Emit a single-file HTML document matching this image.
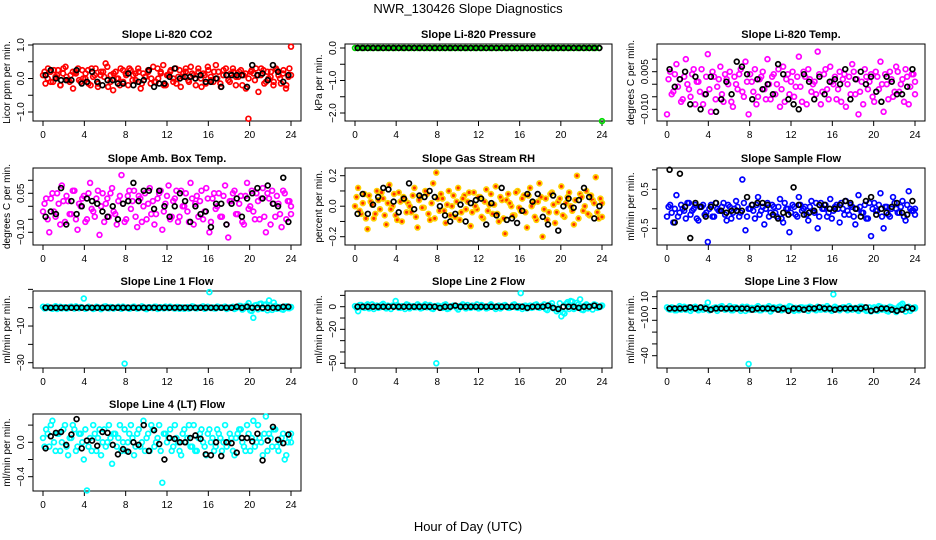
<!DOCTYPE html>
<html><head><meta charset="utf-8"><style>
html,body{margin:0;padding:0;background:#fff}
svg{display:block;font-family:"Liberation Sans",sans-serif}
</style></head><body>
<svg id="c" width="936" height="540" viewBox="0 0 936 540" xmlns="http://www.w3.org/2000/svg">
<text x="468" y="13" text-anchor="middle" font-size="13">NWR_130426  Slope Diagnostics</text>
<text x="468" y="531" text-anchor="middle" font-size="13">Hour of Day (UTC)</text>
</svg>
<script>
const co2Color=[0.1,-0.15,0.3,0.2,-0.1,0.05,0.25,-0.2,0.15,0.35,-0.05,0.1,-0.3,0.2,0.3,-0.1,0.0,0.15,0.25,-0.2,0.05,0.3,-0.15,0.1,0.2,0.45,-0.25,0.1,-0.35,0.2,0.0,0.3,-0.1,0.15,-0.2,0.25,0.1,-0.05,0.3,-0.3,0.15,0.05,0.2,-0.15,0.35,-0.1,0.0,0.2,0.4,-0.2,0.1,0.25,-0.1,0.3,0.05,-0.25,0.15,0.2,-0.05,0.35,0.1,-0.2,0.3,0.0,0.15,-0.15,0.25,0.05,-0.1,0.4,0.2,-0.25,0.1,0.3,-0.05,0.15,0.2,-0.2,0.05,0.25,0.1,-0.3,-1.2,0.2,0.15,0.3,-0.4,0.1,0.25,-0.1,0.0,0.2,-0.2,0.3,0.1,-0.15,0.25,-0.3,0.05,0.95];
const co2Color2=[0.2,0.0,-0.1,0.25,0.1,-0.2,0.3,0.05,-0.1,0.2,0.15,-0.05,0.25,0.0,-0.15,0.3,0.1,-0.25,0.2,0.05,0.35,-0.1,0.15,0.0,-0.2,0.25,0.1,0.3,-0.05,0.15,0.2,-0.15,0.05,0.25,0.0,-0.1,0.3,0.15,-0.2,0.1,0.2,0.0,-0.15,0.25,0.05,0.3,-0.1,0.15,0.0,0.2,-0.25,0.1,0.35,-0.05,0.2,0.0,-0.15,0.25,0.1,-0.1,0.3,0.05,0.2,-0.2,0.15,0.0,0.25,-0.05,0.1,0.3,-0.15,0.2,0.05,-0.1,0.25,0.0,0.15,-0.2,0.3,0.1];
const co2Black=[0.1,0.25,0.0,-0.05,-0.05,-0.05,0.25,-0.15,-0.1,0.2,-0.1,-0.2,-0.05,-0.05,-0.15,-0.15,0.15,-0.2,-0.1,-0.05,0.25,-0.25,-0.15,-0.15,0.05,0.3,0.0,0.05,0.05,0.0,0.1,-0.1,-0.1,0.0,-0.25,0.1,0.1,0.1,0.1,-0.25,0.4,0.1,0.15,-0.05,0.4,0.2,-0.1,0.1];
const presColor=[0,0,0,0,0,0,0,0,0,0,0,0,0,0,0,0,0,0,0,0,0,0,0,0,0,0,0,0,0,0,0,0,0,0,0,0,0,0,0,0,0,0,0,0,0,0,0,0,0,0,0,0,0,0,0,0,0,0,0,0,0,0,0,0,0,0,0,0,0,0,0,0,0,0,0,0,0,0,0,-2.25];
const presColor2=[];
const presBlack=[0,0,0,0,0,0,0,0,0,0,0,0,0,0,0,0,0,0,0,0,0,0,0,0,0,0,0,0,0,0,0,0,0,0,0,0,0,0,0,0,0,0,0,0,0,0,0,0];
const tempColor=[-0.012,0.005,-0.003,0.008,0.002,-0.006,0.010,-0.002,0.004,-0.008,0.001,0.006,-0.004,0.012,-0.011,0.003,-0.001,0.007,-0.007,0.002,0.005,-0.009,0.000,0.004,-0.003,0.009,-0.012,0.001,0.006,-0.005,0.003,-0.002,0.010,-0.006,0.004,0.000,-0.009,0.007,0.002,-0.004,0.005,-0.001,0.011,-0.007,0.003,0.006,-0.003,0.001,0.013,-0.008,0.004,-0.002,0.007,0.000,-0.006,0.005,0.002,-0.009,0.003,0.008,-0.004,-0.012,0.001,0.006,-0.002,0.004,-0.007,0.003,0.009,-0.011,0.000,0.005,-0.005,0.007,-0.003,0.002,0.006,-0.008,0.004,0.001];
const tempColor2=[0.002,-0.004,0.004,-0.001,-0.007,0.003,0.000,-0.005,0.006,0.001,-0.003,-0.008,0.003,-0.002,0.005,-0.006,0.002,-0.004,0.004,0.000,-0.007,0.003,-0.002,0.006,-0.005,0.001,0.004,-0.003,-0.008,0.002,0.005,-0.006,0.000,0.003,-0.004,0.006,-0.002,-0.007,0.004,0.001,-0.005,0.003,-0.001,0.005,-0.008,0.002,0.000,-0.004,0.004,-0.003,0.006,-0.006,0.001,0.003,-0.002,-0.007,0.004,0.000,-0.004,0.005,0.002,-0.003,-0.008,0.003,0.001,-0.005,0.005,-0.002,0.000,0.004,-0.006,0.002,-0.003,0.005,0.000,-0.007,0.003,-0.001,0.004,-0.004];
const tempBlack=[0.006,-0.001,0.002,0.005,-0.008,0.003,-0.010,-0.004,0.003,-0.011,-0.006,0.001,-0.004,0.009,0.007,0.004,-0.006,0.002,-0.002,0.000,-0.004,0.008,0.004,-0.006,-0.008,-0.010,0.004,0.001,-0.006,0.003,-0.004,0.001,0.002,0.000,0.006,-0.006,0.002,0.005,0.000,0.003,-0.003,-0.007,0.003,0.001,-0.004,-0.004,-0.001,0.006];
const ambColor=[-0.02,0.03,-0.1,0.05,-0.04,0.01,0.08,-0.06,0.02,-0.03,0.06,-0.09,0.0,0.04,-0.05,0.09,-0.02,0.03,-0.11,0.05,0.01,-0.04,0.07,-0.03,0.02,0.12,-0.06,0.04,-0.01,0.06,-0.08,0.03,0.0,-0.05,0.07,0.02,-0.03,0.05,-0.09,0.01,0.08,-0.04,0.03,-0.06,0.06,0.0,-0.02,0.09,-0.07,0.04,0.02,-0.05,0.07,-0.1,0.03,-0.01,0.05,-0.04,0.08,-0.12,0.02,0.06,-0.03,0.04,-0.07,0.09,0.0,-0.02,0.05,-0.05,0.07,-0.1,0.03,0.06,-0.04,0.01,-0.08,0.05,0.02,-0.03];
const ambColor2=[0.01,-0.05,0.03,-0.02,0.05,-0.07,0.02,0.04,-0.03,0.06,-0.05,0.01,0.03,-0.06,0.05,-0.01,-0.04,0.06,0.0,-0.06,0.03,0.05,-0.02,-0.07,0.04,0.01,-0.05,0.06,0.02,-0.04,0.04,-0.06,0.05,0.01,-0.03,-0.07,0.03,0.06,-0.02,0.04,-0.05,0.02,0.06,-0.04,0.0,0.05,-0.06,0.03,0.01,-0.04,0.06,-0.02,0.03,-0.06,0.05,0.0,-0.04,0.04,-0.07,0.02,0.05,-0.03,0.01,-0.06,0.04,-0.01,0.06,-0.05,0.02,0.03,-0.04,0.05,-0.07,0.01,0.04,-0.03,0.06,-0.05,0.02,0.0];
const ambBlack=[-0.04,-0.02,-0.03,0.07,-0.07,0.02,-0.03,0.0,0.03,0.02,0.01,-0.02,-0.04,0.0,-0.05,0.01,0.02,0.09,0.02,0.06,0.06,-0.01,0.06,0.0,-0.04,0.0,0.05,0.02,-0.06,0.0,-0.03,-0.02,-0.08,0.01,0.01,-0.07,0.01,0.03,-0.04,0.03,0.05,0.07,0.03,0.08,0.01,0.0,0.11,-0.06];
const rhColor=[0.0,0.12,-0.05,0.08,-0.15,0.03,-0.08,0.1,-0.02,0.05,-0.12,0.14,0.0,-0.06,0.09,-0.1,0.04,0.02,-0.04,0.12,-0.14,0.06,-0.01,0.08,-0.09,0.15,0.22,-0.03,0.05,-0.11,0.1,0.0,-0.07,0.12,-0.04,0.07,0.03,-0.13,0.09,-0.02,0.06,-0.08,0.11,0.01,-0.05,0.13,-0.1,0.04,-0.18,0.08,0.0,-0.06,0.1,-0.03,0.07,-0.14,0.12,0.02,-0.09,0.15,-0.2,0.05,-0.04,0.09,-0.11,0.03,0.13,-0.07,0.06,0.0,-0.12,0.2,0.08,-0.03,0.1,-0.06,0.04,0.19,-0.08,0.02];
const rhColor2=[0.06,-0.03,0.02,-0.08,0.07,0.01,-0.05,0.04,0.09,-0.06,0.02,-0.02,0.08,-0.09,0.03,0.06,-0.04,0.0,0.07,-0.07,0.04,-0.01,0.1,-0.05,0.02,-0.08,0.05,0.08,-0.03,0.01,-0.06,0.07,0.03,-0.09,0.05,-0.02,0.09,-0.04,0.0,0.06,-0.07,0.03,-0.03,0.08,0.01,-0.05,0.06,-0.08,0.04,0.02,-0.06,0.09,-0.01,0.05,-0.04,0.07,0.0,-0.07,0.03,0.06,-0.02,-0.09,0.08,0.01,-0.04,0.05,-0.06,0.02,0.09,-0.03,0.04,-0.08,0.06,0.0,-0.05,0.07,0.02,-0.04,0.05,-0.07];
const rhBlack=[-0.05,0.08,-0.05,0.01,0.06,0.12,0.11,0.03,-0.04,0.05,0.15,-0.02,0.07,0.06,0.1,0.06,0.0,-0.06,-0.1,-0.05,0.01,-0.1,0.02,0.04,0.05,-0.12,0.02,-0.06,0.12,-0.09,-0.08,-0.11,-0.03,0.08,0.03,0.08,-0.07,-0.12,0.07,-0.16,0.0,0.05,-0.01,0.04,0.12,0.06,-0.08,0.0];
const sampleColor=[-0.2,0.1,-0.35,0.35,-0.1,0.0,-0.25,0.15,-0.05,0.1,-0.3,0.05,-0.15,-0.85,0.1,-0.2,0.0,-0.05,0.15,-0.3,0.05,-0.1,0.2,-0.2,0.75,-0.55,0.0,0.1,-0.25,0.3,-0.05,-0.4,0.15,-0.1,0.05,-0.2,0.25,-0.35,0.0,-0.6,0.1,-0.15,0.3,-0.05,0.05,-0.3,0.2,-0.1,-0.5,0.15,0.0,-0.2,0.25,-0.05,0.1,-0.35,0.0,0.2,-0.15,0.05,-0.4,0.35,-0.1,0.1,-0.25,-0.7,0.15,-0.05,0.4,-0.5,0.05,-0.2,0.3,0.0,-0.1,0.2,-0.3,0.45,-0.05,0.0];
const sampleColor2=[0.05,-0.1,0.0,-0.2,0.1,-0.05,0.15,-0.15,0.0,-0.25,0.05,0.1,-0.1,0.0,-0.2,0.15,-0.05,0.05,-0.15,0.1,-0.25,0.0,0.05,-0.1,0.15,-0.2,0.0,-0.05,0.1,-0.15,0.05,0.0,-0.2,0.1,-0.1,0.05,-0.25,0.15,0.0,-0.1,0.05,-0.2,0.1,0.0,-0.15,0.05,-0.05,0.15,-0.2,0.0,0.1,-0.1,-0.25,0.05,0.0,0.15,-0.15,-0.05,0.1,-0.2,0.0,0.05,-0.1,-0.25,0.15,0.0,-0.05,0.1,-0.2,0.05,-0.15,0.0,0.15,-0.1,0.05,-0.2,0.1,0.0,-0.05,-0.15];
const sampleBlack=[1.0,-0.35,0.9,0.05,-0.75,0.15,0.05,-0.2,0.05,0.15,-0.05,-0.1,-0.05,-0.05,-0.05,0.3,0.1,0.15,0.15,0.1,-0.15,-0.25,-0.1,-0.15,0.55,0.1,-0.15,-0.1,-0.05,0.1,0.1,0.0,0.0,0.1,0.2,0.15,0.0,-0.2,0.2,0.3,-0.15,0.0,-0.1,0.05,0.15,-0.1,-0.15,0.2];
const l1Color=[0.5,-0.3,0.2,-0.6,0.8,0.0,-0.4,0.3,-0.2,0.6,-0.5,0.1,0.4,5.0,-0.3,0.2,-0.7,0.5,0.0,-0.2,0.7,-0.4,0.3,-0.1,0.5,-0.6,-30.5,0.2,-0.3,0.6,-0.5,0.1,0.4,-0.8,0.3,-0.2,0.5,-0.4,0.0,0.6,-0.3,0.2,-0.5,0.4,0.1,-0.6,0.3,-0.2,0.5,-0.4,0.0,0.7,-0.3,8.5,0.2,-0.5,0.4,-0.1,0.6,-0.3,0.2,-0.7,0.5,0.9,-0.4,1.2,-1.5,-5.5,1.5,2.0,-0.6,1.8,4.0,-1.2,1.0,0.3,-0.8,0.6,-0.2,0.4];
const l1Color2=[-0.4,0.6,-0.2,0.3,-0.7,0.5,0.1,-0.5,0.4,-0.1,0.7,-0.3,0.2,-0.6,0.5,0.0,-0.4,0.3,-0.8,0.6,-0.2,0.4,-0.5,0.1,-0.3,0.6,-0.1,-0.6,0.4,0.0,-0.3,0.7,-0.5,0.2,-0.1,0.5,-0.7,0.3,-0.4,0.1,0.6,-0.2,0.4,-0.6,0.2,0.0,-0.5,0.7,-0.3,0.1,0.4,-0.6,0.5,-0.2,-0.4,0.6,-0.1,0.3,-0.7,0.2,0.5,-0.3,1.0,-1.0,0.8,2.5,-1.8,1.2,-0.9,2.2,1.5,-1.4,0.9,2.8,-0.6,0.4,-1.1,0.7,-0.3,0.2];
const l1Black=[0,0,0,0,0,0,0,0,0,0,0,0,0,0,0,0,0,0,0,0,0,0,0,0,0,0,0,0,0,0,0,0,0,0,0,0,0,0.5,0,0.5,0,0,0,0,0,0,0.5,0.5];
const l2Color=[0.5,-4.0,1.5,-1.0,2.0,0.0,-2.0,1.0,-0.5,2.5,-1.5,0.5,1.0,5.0,-1.0,0.5,-2.0,1.5,0.0,-0.5,2.0,-1.5,1.0,-0.5,1.5,-2.0,-50,0.5,-1.0,2.0,-1.5,0.5,1.0,-2.5,1.0,-0.5,1.5,-1.0,0.0,2.0,-1.0,0.5,-1.5,1.0,0.5,-2.0,1.0,-0.5,1.5,-1.0,0.0,2.0,-1.0,12.0,0.5,-1.5,1.0,-0.5,2.0,-1.0,0.5,-2.0,1.5,3.0,-1.5,-2.5,-8.5,-6.0,4.0,5.0,-2.0,3.5,6.5,-3.0,2.0,0.5,-2.5,1.5,-0.5,1.0];
const l2Color2=[-1.0,1.5,-0.5,1.0,-1.5,2.0,0.0,-1.0,1.5,-0.5,1.0,-2.0,0.5,1.5,-1.0,0.0,2.0,-1.5,0.5,-0.5,1.0,-1.0,2.0,0.0,-1.5,0.5,1.0,-0.5,1.5,-2.0,0.0,1.0,-1.0,0.5,2.0,-1.5,0.0,1.0,-0.5,-1.5,1.5,0.0,-1.0,2.0,-0.5,0.5,-1.5,1.0,0.0,-1.0,1.5,-0.5,0.5,-2.0,1.0,0.0,-1.0,1.5,-0.5,0.5,2.0,-3.0,1.0,-1.5,-4.0,3.0,-5.0,2.5,-2.0,4.5,-1.0,2.0,-2.5,1.0,-1.5,0.5,2.0,-1.0,0.0,1.0];
const l2Black=[0,0,0,0,0,0,0,0,0,0,0,0,0,0,0,0,-1,0,0,1,0,0,0,0,0,0,0,0,0,0,0,0,0,-1,0,0,0,1,-1,-2,0,0,0,-1,0,0,1,0];
const l3Color=[1.0,-1.0,0.5,-1.5,2.0,0.0,-1.0,1.0,-0.5,1.5,-1.5,0.5,1.0,5.0,-1.0,0.5,-2.0,1.5,0.0,-0.5,2.0,-1.5,1.0,-0.5,1.5,-2.0,-47,0.5,-1.0,2.0,-1.5,0.5,1.0,-2.5,1.0,-0.5,1.5,-1.0,0.0,2.0,-1.0,0.5,-1.5,1.0,0.5,-2.0,1.0,-0.5,1.5,-1.0,0.0,2.0,-1.0,12.0,0.5,-1.5,1.0,-0.5,2.0,-1.0,0.5,-2.0,1.5,1.0,-1.5,-2.5,1.0,-2.0,1.5,0.5,-2.0,1.5,-1.0,-3.0,2.0,4.0,-2.5,1.5,-0.5,1.0];
const l3Color2=[-0.5,1.0,-1.5,0.5,-1.0,1.5,0.0,-2.0,1.0,-0.5,0.5,-1.0,1.5,-1.5,0.0,1.0,-0.5,2.0,-1.0,0.5,-1.5,1.0,0.0,-2.0,0.5,1.5,-1.0,0.0,1.0,-1.5,0.5,-0.5,2.0,-1.0,0.0,1.0,-1.5,0.5,-0.5,1.5,-2.0,0.0,1.0,-1.0,0.5,1.5,-0.5,-1.5,0.0,1.0,-1.0,0.5,-2.0,1.5,0.0,-0.5,1.0,-1.5,0.5,0.0,-1.0,1.5,-0.5,-2.0,1.0,0.0,-1.5,2.0,-1.0,0.5,-2.5,1.0,0.0,-1.5,3.0,-0.5,1.0,-2.0,0.5,0.0];
const l3Black=[0,0,0,0,1,0,1,0,-1,0,0,0,0,0,0,0,-1,0,0,0,0,-1,0,-2,0,0,-1,0,0,1,0,0,-1,0,0,0,0,0,1,-2,-1,0,0,-1,-2,-1,1,0];
const l4Color=[0.05,0.15,-0.05,0.25,-0.1,0.1,0.0,0.2,-0.15,0.05,0.15,-0.05,0.1,-0.2,-0.56,0.05,0.2,-0.1,0.15,0.0,-0.05,0.2,-0.25,0.1,0.05,-0.1,0.15,0.0,0.2,-0.15,0.1,-0.05,0.25,0.05,-0.1,0.15,0.0,0.2,-0.47,0.1,0.05,-0.1,0.2,0.0,-0.15,0.15,0.05,-0.05,0.2,-0.1,0.1,0.0,-0.15,0.15,0.05,-0.05,0.1,-0.1,0.2,0.0,0.05,-0.15,0.1,0.15,-0.05,0.2,-0.1,0.25,0.0,0.05,-0.15,0.3,0.1,-0.05,0.15,-0.1,0.05,-0.2,0.0,0.1];
const l4Color2=[-0.05,0.1,0.2,0.0,0.1,-0.1,0.15,-0.05,0.05,0.2,-0.1,0.1,0.0,0.15,-0.05,-0.1,0.1,0.05,-0.15,0.15,0.0,0.05,0.1,-0.05,0.2,0.0,-0.1,0.1,0.05,-0.05,0.15,0.0,-0.1,0.1,0.2,-0.05,0.05,-0.1,0.1,0.0,0.15,-0.05,0.05,-0.1,0.1,0.0,0.2,-0.05,-0.1,0.05,0.15,-0.05,0.1,0.0,-0.1,0.15,0.05,0.0,-0.05,0.1,-0.1,0.05,0.15,0.0,-0.1,0.1,0.05,-0.05,0.2,0.0,0.1,-0.1,0.05,0.15,-0.05,0.0,0.1,-0.15,0.05,0.0];
const l4Black=[-0.07,0.07,0.11,0.12,-0.03,0.09,0.27,-0.07,0.02,0.02,-0.04,0.12,0.11,-0.03,-0.14,-0.08,-0.11,0.0,-0.03,0.2,-0.1,0.14,-0.02,-0.2,0.05,0.04,0.0,0.0,0.05,0.08,0.04,-0.14,-0.15,0.0,-0.16,0.0,-0.01,-0.12,0.05,0.05,0.01,0.1,-0.21,0.02,0.18,0.03,-0.01,0.09];
const xTicks=[0,4,8,12,16,20,24];

const panels=[
 {name:"co2",title:"Slope Li-820 CO2",ylab:"Licor ppm per min.",col:0,row:0,color:"#ff0000",c:co2Color,c2:co2Color2,b:co2Black,v0:1,p0:45,v1:-1,p1:112,ticks:[1,0.5,0,-0.5,-1],labels:["1.0","","0.0","","\u22121.0"]},
 {name:"pressure",title:"Slope Li-820 Pressure",ylab:"kPa per min.",col:1,row:0,color:"#00dd00",c:presColor,c2:presColor2,b:presBlack,v0:0,p0:48,v1:-2,p1:113,ticks:[0,-0.5,-1,-1.5,-2],labels:["0.0","","\u22121.0","","\u22122.0"]},
 {name:"temp",title:"Slope Li-820 Temp.",ylab:"degrees C per min.",col:2,row:0,color:"#ff00ff",c:tempColor,c2:tempColor2,b:tempBlack,v0:0.005,p0:71.7,v1:-0.01,p1:109.3,ticks:[0.01,0.005,0,-0.005,-0.01],labels:["","0.005","","","\u22120.010"]},
 {name:"amb-temp",title:"Slope Amb. Box Temp.",ylab:"degrees C per min.",col:0,row:1,color:"#ff00ff",c:ambColor,c2:ambColor2,b:ambBlack,v0:0.05,p0:193.3,v1:-0.1,p1:232.3,ticks:[0.1,0.05,0,-0.05,-0.1],labels:["","0.05","","","\u22120.10"]},
 {name:"rh",title:"Slope Gas Stream RH",ylab:"percent per min.",col:1,row:1,color:"#ffd000",c:rhColor,c2:rhColor2,b:rhBlack,v0:0.2,p0:175.7,v1:-0.2,p1:236.7,ticks:[0.2,0.1,0,-0.1,-0.2],labels:["0.2","","0.0","","\u22120.2"],rh:true},
 {name:"sample-flow",title:"Slope Sample Flow",ylab:"ml/min per min.",col:2,row:1,color:"#0000ff",c:sampleColor,c2:sampleColor2,b:sampleBlack,v0:0.5,p0:189.3,v1:-0.5,p1:228.3,ticks:[1,0.5,0,-0.5],labels:["","0.5","","\u22120.5"]},
 {name:"line1-flow",title:"Slope Line 1 Flow",ylab:"ml/min per min.",col:0,row:2,color:"#00ffff",c:l1Color,c2:l1Color2,b:l1Black,v0:0,p0:307.7,v1:-30,p1:362.7,ticks:[10,0,-10,-20,-30],labels:["","","\u221210","","\u221230"]},
 {name:"line2-flow",title:"Slope Line 2 Flow",ylab:"ml/min per min.",col:1,row:2,color:"#00ffff",c:l2Color,c2:l2Color2,b:l2Black,v0:0,p0:306.7,v1:-50,p1:363.3,ticks:[10,0,-10,-20,-30,-40,-50],labels:["","0","","\u221220","","","\u221250"]},
 {name:"line3-flow",title:"Slope Line 3 Flow",ylab:"ml/min per min.",col:2,row:2,color:"#00ffff",c:l3Color,c2:l3Color2,b:l3Black,v0:10,p0:296.7,v1:-40,p1:355.7,ticks:[10,0,-10,-20,-30,-40],labels:["10","0","\u221210","","","\u221240"]},
 {name:"line4-flow",title:"Slope Line 4 (LT) Flow",ylab:"ml/min per min.",col:0,row:3,color:"#00ffff",c:l4Color,c2:l4Color2,b:l4Black,v0:0,p0:442.3,v1:-0.4,p1:476.7,ticks:[0.2,0,-0.2,-0.4],labels:["","0.0","","\u22120.4"]}
];
const boxL=[33,345,657], boxR=[301,612,925], boxT=[44,168,291,414], boxH=77;
const svg=document.getElementById('c');
const NS="http://www.w3.org/2000/svg";
function mk(tag,attrs,parent){const e=document.createElementNS(NS,tag);for(const k in attrs)e.setAttribute(k,attrs[k]);parent.appendChild(e);return e;}
panels.forEach(p=>{
  const L=boxL[p.col],R=boxR[p.col],T=boxT[p.row],B=T+boxH;
  const g=mk('g',{},svg);
  
  
  const xs=h=>L+10+(R-L-20)*h/24;
  const ys=v=>p.p0+(v-p.v0)*(p.p1-p.p0)/(p.v1-p.v0);
  const t=mk('text',{x:(L+R)/2,y:T-6,'text-anchor':'middle','font-size':11,'font-weight':'bold'},g);
  t.textContent=p.title;
  
  
  const box=mk('rect',{x:L,y:T,width:R-L,height:boxH,fill:'none',stroke:'#000','stroke-width':1},g);
  
  
  const xa=mk('g',{},g);
  
  
  xTicks.forEach(h=>{
    mk('line',{x1:xs(h),x2:xs(h),y1:B,y2:B+5,stroke:'#000'},xa);
    const tl=mk('text',{x:xs(h),y:B+17,'text-anchor':'middle','font-size':10},xa);
    tl.textContent=h;
    
    
  });
  const ya=mk('g',{},g);
  
  
  p.ticks.forEach((v,i)=>{
    const y=ys(v);
    mk('line',{x1:L-5,x2:L,y1:y,y2:y,stroke:'#000'},ya);
    if(p.labels[i]){
      const tl=mk('text',{x:L-9,y:y,'text-anchor':'middle','font-size':10,transform:`rotate(-90 ${L-9} ${y})`},ya);
      tl.textContent=p.labels[i];
      
      
    }
  });
  const yt=mk('text',{x:L-23,y:(T+B)/2,'text-anchor':'middle','font-size':10,transform:`rotate(-90 ${L-23} ${(T+B)/2})`},g);
  yt.textContent=p.ylab;
  
  
  const drawColor=(arr,off)=>{
    const n=arr.length;
    arr.forEach((v,i)=>{
      const h=Math.min(24,i*24/(n-1)+off);
      const pt=mk('circle',{cx:xs(h),cy:ys(v),r:2.4,fill:p.rh?'#ff3000':'none',stroke:p.color,'stroke-width':1.7},g);
      
      
    });
  };
  const drawBlack=()=>{
    p.b.forEach((v,i)=>{
      const h=(i+0.5)/2;
      const pt=mk('circle',{cx:xs(h),cy:ys(v),r:2.4,fill:'none',stroke:'#000','stroke-width':1.7},g);
      
      
    });
  };
  drawColor(p.c,0);drawColor(p.c2,0.15);drawBlack();
});
</script>
</body></html>
